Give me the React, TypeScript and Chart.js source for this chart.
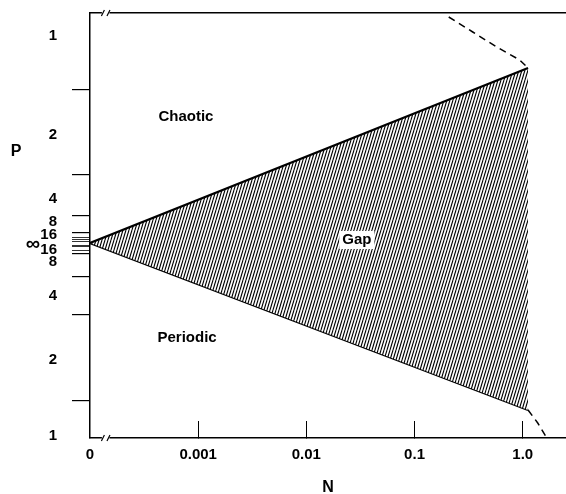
import React, { useEffect, useRef } from 'react';
import { Chart, registerables } from 'chart.js';

Chart.register(...registerables);

// ---- data ----
const xTickValues = [0, 0.001, 0.01, 0.1, 1.0];
const xTickLabels = ['0', '0.001', '0.01', '0.1', '1.0'];

// P axis: vertical position units, with P = ∞ at 0
const pLabelPositions = [2.07, 1.08, 0.44, 0.21, 0.085, -0.065, -0.19, -0.53, -1.17, -1.93];
const pLabels = ['1', '2', '4', '8', '16', '16', '8', '4', '2', '1'];
const pBoundaries = [1.53, 0.68, 0.27, 0.1, 0.06, 0.04, 0.02, -0.02, -0.04, -0.07, -0.11, -0.34, -0.72, -1.58];

const gapN = [0, 1.12];
const gapUpperP = [0, 1.75];
const gapLowerP = [0, -1.67];

const dashUpperN = [0.207, 0.345, 0.575, 0.938, 1.12];
const dashUpperP = [2.26, 2.11, 1.96, 1.83, 1.75];
const dashLowerN = [1.12, 1.377, 1.667];
const dashLowerP = [-1.67, -1.8, -1.95];

const regionTexts = ['Chaotic', 'Gap', 'Periodic'];
const regionN = [0.00077, 0.0293, 0.00079];
const regionP = [1.26, 0.03, -0.95];

const X_MIN = 0;
const X_MAX = 4.4;
const Y_MIN = -1.95;
const Y_MAX = 2.3;

// N axis: 0 placed one decade left of 0.001, then logarithmic
const toX = (n: number) => (n <= 0 ? 0 : Math.log10(n) + 4);
const pts = (ns: number[], ps: number[]) => ns.map((n, i) => ({ x: toX(n), y: ps[i] }));

const FONT_FAMILY = '"Liberation Sans", Arial, Helvetica, sans-serif';

function makeHatch(): CanvasPattern | string {
  const c = document.createElement('canvas');
  c.width = 3;
  c.height = 10;
  const g = c.getContext('2d');
  if (!g) return '#666';
  g.fillStyle = '#fff';
  g.fillRect(0, 0, 3, 10);
  g.strokeStyle = '#000';
  g.lineWidth = 1.1;
  for (const off of [-3, 0, 3]) {
    g.beginPath();
    g.moveTo(off, 10);
    g.lineTo(off + 3, 0);
    g.stroke();
  }
  const p = g.createPattern(c, 'repeat');
  return p || '#666';
}

const noPad = (s: any) => {
  s.paddingTop = 0;
  s.paddingBottom = 0;
  s.paddingLeft = 0;
  s.paddingRight = 0;
};

const textPlugin = {
  id: 'textPlugin',
  afterDraw(chart: any) {
    const { ctx, scales, chartArea } = chart;
    const xs = scales.x;
    const ys = scales.y;
    ctx.save();
    ctx.textAlign = 'center';
    ctx.textBaseline = 'middle';
    ctx.font = `bold 15px ${FONT_FAMILY}`;
    regionTexts.forEach((t, i) => {
      const px = xs.getPixelForValue(toX(regionN[i]));
      const py = ys.getPixelForValue(regionP[i]);
      if (t === 'Gap') {
        const w = ctx.measureText(t).width + 6;
        ctx.fillStyle = '#fff';
        ctx.fillRect(px - w / 2, py - 9, w, 18);
      }
      ctx.fillStyle = '#000';
      ctx.fillText(t, px, py);
    });
    // axis title P and ∞ label
    ctx.font = `bold 16px ${FONT_FAMILY}`;
    ctx.fillText('P', 16, ys.getPixelForValue(0.91));
    ctx.font = `bold 20px ${FONT_FAMILY}`;
    ctx.fillText('∞', 33, ys.getPixelForValue(0) + 1);

    // axis breaks
    const bx0 = xs.getPixelForValue(0.11);
    const bx1 = xs.getPixelForValue(0.18);
    for (const yy of [chartArea.top, chartArea.bottom]) {
      ctx.fillStyle = '#fff';
      ctx.fillRect(bx0, yy - 3, bx1 - bx0, 6);
      ctx.strokeStyle = '#000';
      ctx.lineWidth = 1.2;
      for (const bx of [bx0 + 1, bx1 - 1]) {
        ctx.beginPath();
        ctx.moveTo(bx - 1.5, yy + 3);
        ctx.lineTo(bx + 1.5, yy - 3);
        ctx.stroke();
      }
    }
    ctx.restore();
  },
};

export default function App() {
  const ref = useRef<HTMLCanvasElement | null>(null);

  useEffect(() => {
    if (!ref.current) return;
    Chart.defaults.font.family = FONT_FAMILY;
    Chart.defaults.color = '#000';
    const hatch = makeHatch();

    const chart = new Chart(ref.current, {
      type: 'line',
      data: {
        datasets: [
          {
            data: pts(gapN, gapUpperP),
            borderColor: '#000',
            borderWidth: 2.2,
            pointRadius: 0,
            fill: '+1',
            backgroundColor: hatch as any,
            tension: 0,
          },
          {
            data: pts(gapN, gapLowerP),
            borderColor: '#000',
            borderWidth: 2.2,
            pointRadius: 0,
            fill: false,
            tension: 0,
          },
          {
            data: pts(dashUpperN, dashUpperP),
            borderColor: '#000',
            borderWidth: 1.5,
            borderDash: [7, 5],
            pointRadius: 0,
            fill: false,
            tension: 0,
          },
          {
            data: pts(dashLowerN, dashLowerP),
            borderColor: '#000',
            borderWidth: 1.5,
            borderDash: [7, 5],
            pointRadius: 0,
            fill: false,
            tension: 0,
          },
        ],
      },
      options: {
        animation: false,
        responsive: false,
        devicePixelRatio: 1,
        layout: { padding: { top: 13, right: 0, left: 0, bottom: 0 } },
        plugins: {
          legend: { display: false },
          tooltip: { enabled: false },
        },
        scales: {
          x: {
            type: 'linear',
            position: 'bottom',
            min: X_MIN,
            max: X_MAX,
            afterBuildTicks: (s: any) => {
              s.ticks = xTickValues.map((v) => ({ value: toX(v) }));
            },
            afterFit: (s: any) => {
              s.height = 56;
              noPad(s);
            },
            ticks: {
              callback: (_v: any, i: number) => xTickLabels[i],
              font: { size: 15, weight: 'bold' },
              color: '#000',
              padding: 25,
              maxRotation: 0,
              autoSkip: false,
            },
            grid: {
              drawOnChartArea: false,
              drawTicks: true,
              tickLength: -17,
              lineWidth: 1,
              color: (c: any) => (c.tick && c.tick.value === 0 ? 'rgba(0,0,0,0)' : '#000'),
            },
            border: { display: true, color: '#000', width: 1.5 },
            title: {
              display: true,
              text: 'N',
              font: { size: 16, weight: 'bold' },
              color: '#000',
              padding: { top: 0, bottom: -3 },
            },
          },
          xTop: {
            type: 'linear',
            position: 'top',
            min: X_MIN,
            max: X_MAX,
            afterFit: (s: any) => {
              s.height = 0;
              noPad(s);
            },
            ticks: { display: false },
            grid: { display: false },
            border: { display: true, color: '#000', width: 1.5 },
          },
          y: {
            type: 'linear',
            position: 'left',
            weight: 0,
            min: Y_MIN,
            max: Y_MAX,
            afterBuildTicks: (s: any) => {
              s.ticks = pBoundaries.map((v) => ({ value: v }));
            },
            afterFit: (s: any) => {
              s.width = 18;
              noPad(s);
            },
            ticks: { display: false },
            grid: {
              drawOnChartArea: false,
              drawTicks: true,
              tickLength: 18,
              color: '#000',
              lineWidth: (c: any) => (c.tick && Math.abs(c.tick.value) < 0.09 ? 0.8 : 1.2),
            },
            border: { display: true, color: '#000', width: 1.5 },
          },
          yl: {
            type: 'linear',
            position: 'left',
            weight: 1,
            min: Y_MIN,
            max: Y_MAX,
            afterBuildTicks: (s: any) => {
              s.ticks = pLabelPositions.map((v) => ({ value: v }));
            },
            afterFit: (s: any) => {
              s.width = 72;
              noPad(s);
            },
            ticks: {
              callback: (_v: any, i: number) => pLabels[i],
              font: { size: 15, weight: 'bold' },
              color: '#000',
              padding: 7,
              autoSkip: false,
            },
            grid: { display: false },
            border: { display: false },
          },
        },
      } as any,
      plugins: [textPlugin],
    });
    return () => chart.destroy();
  }, []);

  return (
    <canvas
      ref={ref}
      width={566}
      height={494}
      style={{ display: 'block', position: 'fixed', left: 0, top: 0 }}
    />
  );
}
